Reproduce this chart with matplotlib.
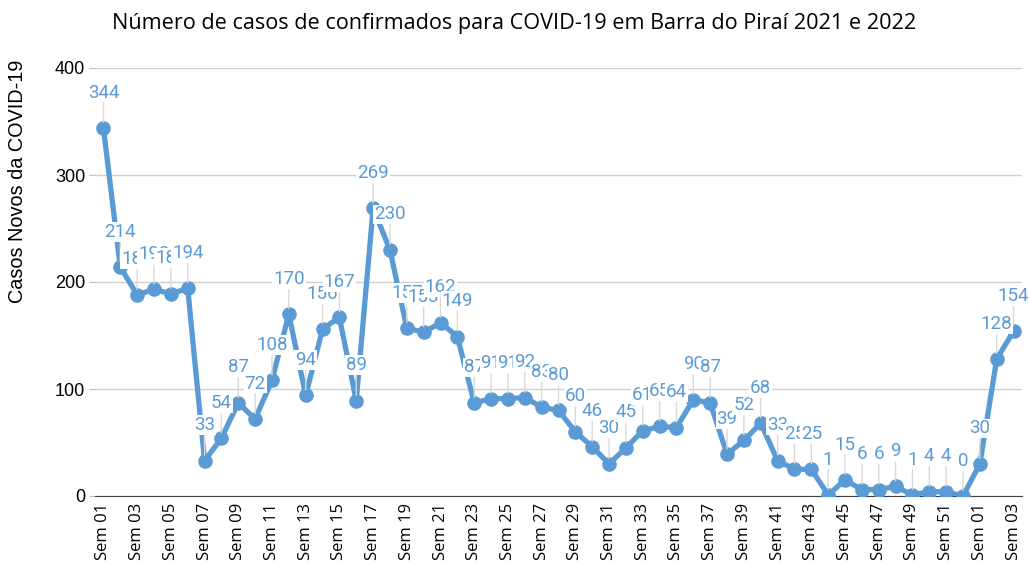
import matplotlib
matplotlib.use("Agg")
import matplotlib.pyplot as plt

# semanas epidemiologicas 2021 (01-52) e 2022 (01-03)
semanas = ["Sem %02d" % i for i in range(1, 53)] + ["Sem 01", "Sem 02", "Sem 03"]

casos = [344, 214, 188, 193, 189, 194, 33, 54, 87, 72,
         108, 170, 94, 156, 167, 89, 269, 230, 157, 153,
         162, 149, 87, 91, 91, 92, 83, 80, 60, 46,
         30, 45, 61, 65, 64, 90, 87, 39, 52, 68,
         33, 25, 25, 1, 15, 6, 6, 9, 1, 4,
         4, 0, 30, 128, 154]

cor = "#5B9BD5"

fig = plt.figure(figsize=(10.29, 5.67), dpi=100)
ax = fig.add_axes([95 / 1029, 71 / 567, 927 / 1029, 428 / 567])

x = list(range(len(casos)))
ax.plot(x, casos, color=cor, lw=3.8, marker="o", ms=9.5, zorder=3)

for i, v in enumerate(casos):
    ax.annotate(str(v), xy=(i, v), xytext=(0, 25.5), textcoords="offset points",
                ha="center", va="center", color=cor, fontsize=13.5, family="Roboto",
                bbox=dict(boxstyle="square,pad=0.05", fc="white", ec="none"),
                arrowprops=dict(arrowstyle="-", color="#d9d9d9", lw=1, shrinkA=0, shrinkB=4),
                zorder=4, annotation_clip=False)

ax.set_xlim(-0.5, len(casos) - 0.5)
ax.set_ylim(0, 400)
ax.set_yticks([0, 100, 200, 300, 400])
ax.set_xticks(x[::2])
ax.set_xticklabels(semanas[::2], rotation=90, fontsize=12, family="Open Sans")
ax.tick_params(axis="x", length=0, pad=5)
ax.tick_params(axis="y", length=4, color="#bfbfbf", labelsize=13, pad=3)
for lab in ax.get_yticklabels():
    lab.set_family("Liberation Sans")

ax.grid(axis="y", color="#d0d0d0", lw=1)
ax.set_axisbelow(True)
for s in ["top", "right", "left"]:
    ax.spines[s].set_visible(False)
ax.spines["bottom"].set_color("#404040")
ax.spines["bottom"].set_zorder(2)

fig.text(18 / 1029, 1 - 181 / 567, "Casos Novos da COVID-19", rotation=90,
         ha="center", va="center", fontsize=14.3, family="Liberation Sans")
fig.text(0.5, 0.958, "Número de casos de confirmados para COVID-19 em Barra do Piraí 2021 e 2022",
         ha="center", va="center", fontsize=15.6, family="Open Sans")

fig.savefig("out.png", dpi=100)
